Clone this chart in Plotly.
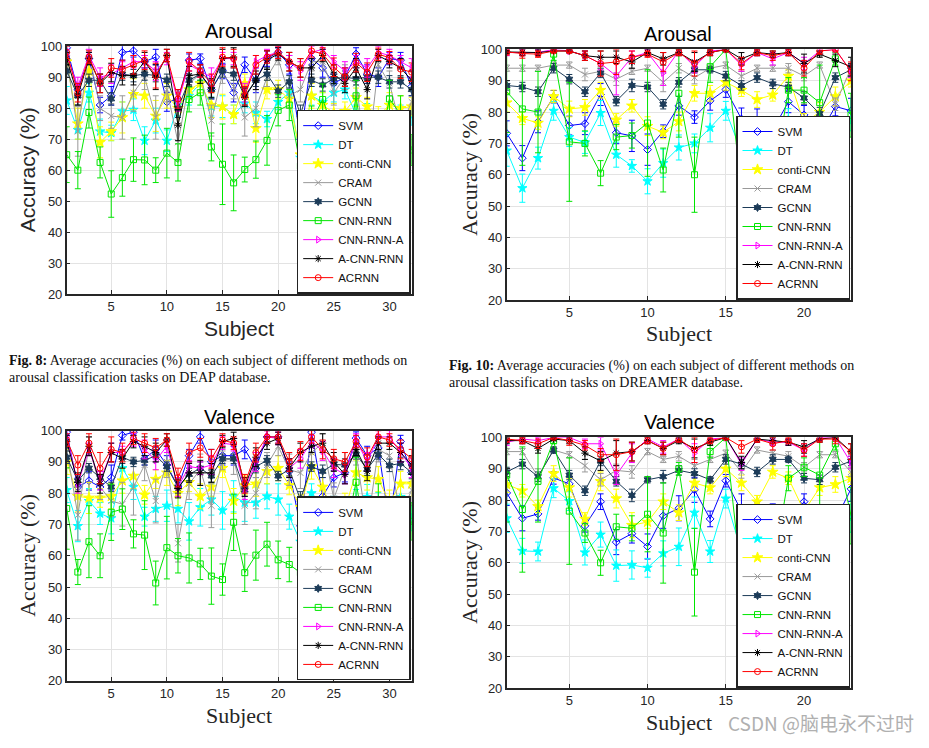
import plotly.graph_objects as go

# ---------------- categories ----------------
NAMES = ["SVM", "DT", "conti-CNN", "CRAM", "GCNN", "CNN-RNN", "CNN-RNN-A", "A-CNN-RNN", "ACRNN"]
DEAP_SUBJECTS = list(range(1, 33))
DREAMER_SUBJECTS = list(range(1, 24))
Y_TICKS = [20, 30, 40, 50, 60, 70, 80, 90, 100]
DEAP_X_TICKS = [5, 10, 15, 20, 25, 30]
DREAMER_X_TICKS = [5, 10, 15, 20]

# ---------------- DEAP arousal (Fig. 8) ----------------
DA_SVM = [99.5, 86, 96, 81, 84, 98, 98.5, 95, 96.5, 82, 83, 95.5, 96, 86, 92, 85, 94, 89, 96, 98, 94, 70, 96, 93, 88, 90, 97.5, 91, 90, 96, 95.5, 87]
DA_DT = [82.5, 73, 85, 72.5, 72, 79, 79.5, 69.5, 76, 69.5, 81, 84, 88, 80.5, 80.5, 78, 81.5, 78.5, 76.5, 82, 85, 64, 84, 82, 85, 86, 78, 78.5, 76, 71.5, 78, 77.5]
DA_CONTI = [95, 75, 92, 69, 72.5, 77, 84.5, 84, 77.5, 84, 80, 86, 88, 81, 80.5, 78, 88, 73.5, 86, 86, 83, 65, 84, 81, 78.5, 79, 83.5, 80.5, 77.5, 81, 80, 80.5]
DA_CRAM = [96, 72.5, 98, 80, 77.5, 77, 85, 90, 77, 86, 69, 88, 91, 76, 91, 87, 77, 80, 90, 96, 84, 86, 95, 95, 85, 90, 88, 62, 94, 88, 74, 82]
DA_GCNN = [92, 84, 89, 89, 83, 91, 90.5, 91, 90.5, 89, 80, 89, 91, 86, 92, 91, 84, 89, 91, 85.5, 88.5, 78, 89, 87.5, 89.5, 90, 89.5, 90, 90, 88.5, 88.5, 86]
DA_CNNRNN = [65, 60, 78.6, 62.5, 52.3, 57.6, 63.4, 63.3, 60, 65.5, 62.5, 82.8, 85, 67.5, 61.9, 55.9, 60.2, 63.4, 69.6, 79.3, 81, 61.3, 75.7, 82.8, 72.8, 60, 84, 58, 65.7, 83, 78, 66.5]
DA_CNNRNNA = [97, 87, 97, 90, 91, 93, 95, 95, 92, 96, 82, 94, 92, 90, 96, 96, 85, 95, 97, 98, 95, 92, 98, 99, 95, 92, 95, 93, 98, 97, 95, 93]
DA_ACNNRNN = [96, 84, 96, 88, 91.5, 90.5, 90.5, 95, 90, 97, 74.5, 90.5, 91, 86.5, 96, 96.5, 83.5, 89, 95.5, 97.5, 95, 93, 93, 97, 91, 88, 93, 86, 97, 95, 93, 89]
DA_ACRNN = [98, 85, 96.5, 88, 93, 92.5, 94, 95.5, 90.5, 97, 83, 95, 92, 88, 96.5, 96, 84, 94, 96.5, 98, 95, 93, 98.5, 97.5, 93.2, 90, 94.7, 91.6, 97.4, 96.3, 92.6, 91.6]

DA_SVM_ERR = [1.5, 2, 2, 2.5, 3, 2.5, 2, 2, 2.5, 3, 3, 2, 1.5, 3, 2.5, 3, 2.5, 4, 2.5, 1.5, 3, 6, 2, 3, 3, 3, 2, 3, 3, 2, 2.5, 3]
DA_DT_ERR = [4.5, 3, 3, 4, 2.5, 3, 3.5, 4.5, 4, 3.5, 3.5, 3, 3, 3, 3.5, 3, 3, 3.5, 2.5, 2.5, 3, 3.5, 3, 3, 3, 3, 3, 3, 3, 3, 3, 3]
DA_CONTI_ERR = [3, 5, 3, 5, 3, 5, 5, 4, 5, 4, 5, 3, 3, 4, 4, 3, 3, 4.5, 3, 3, 3, 4, 4, 4, 3, 3, 3, 3, 3, 4, 4, 3]
DA_CRAM_ERR = [2, 8, 3, 4, 4, 7, 6, 4, 7, 4, 6, 4, 3, 5, 3, 4, 6, 6, 3, 2, 4, 4, 3, 3, 4, 4, 4, 5, 3, 4, 4, 4]
DA_GCNN_ERR = [2, 3, 2, 2, 2, 2, 2, 2, 2, 2, 3, 2, 2, 3, 2, 2, 3, 2, 2, 2, 2, 3, 2, 2, 2, 2, 2, 2, 2, 2, 2, 2]
DA_CNNRNN_ERR = [9, 6, 5, 5, 7.5, 6, 7, 8, 4, 8, 6, 4, 4, 4.5, 13, 9, 4, 6, 8, 5, 5, 5, 5, 5, 4, 8, 5, 7, 5, 6, 6, 5]
DA_CNNRNNA_ERR = [2, 3, 2, 3, 3, 2, 2, 2, 3, 2, 3, 2, 2, 3, 2, 2, 3, 2, 2, 2, 2, 3, 2, 2, 2, 3, 2, 3, 2, 2, 2, 3]
DA_ACNNRNN_ERR = [2, 3, 2, 3, 3, 3, 3, 3, 4, 2, 5, 3, 3, 3, 3, 3, 3, 3, 3, 2, 3, 3, 3, 2, 3, 3, 3, 3, 2, 2, 3, 3]
DA_ACRNN_ERR = [2, 3, 2, 3, 3, 3, 3, 3, 4, 2, 3, 3, 2, 3, 3, 3, 3, 3, 2, 2, 3, 3, 2, 2, 3, 3, 3, 3, 2, 2, 3, 3]

# ---------------- DREAMER arousal (Fig. 10) ----------------
RA_SVM = [73.2, 65.3, 76.9, 84.9, 75.7, 76.3, 85.6, 73.4, 72.4, 68, 73.9, 82, 78.4, 83.6, 87.2, 77.8, 76, 74.2, 83.3, 79.1, 72.9, 81.8, 80.4]
RA_DT = [67.7, 55.7, 65.3, 80.4, 72, 70.3, 79.7, 66.4, 62.8, 57.9, 63.7, 68.7, 70, 75, 80.4, 67.2, 66.1, 64, 77.6, 67.7, 61.4, 69.6, 77]
RA_CONTI = [83, 78, 76.5, 85, 81, 81.5, 87, 77.5, 82, 75.5, 73.5, 77, 86, 86, 89.5, 87, 84, 85.5, 91.5, 76.5, 80, 85, 90]
RA_CRAM = [94, 94, 94, 95, 95, 92, 93, 90.5, 93, 94, 89.5, 94, 91, 94, 95, 91.5, 94, 94, 94, 91.5, 95, 82.5, 94]
RA_GCNN = [88.5, 88, 86.5, 94, 90.5, 86.5, 92.5, 83.5, 88.5, 88, 82.5, 89.5, 93.5, 93.5, 91.5, 88.5, 91, 89, 88, 84.5, 79.5, 91, 93.5]
RA_CNNRNN = [86.5, 81, 80, 98.5, 70.5, 70, 60.5, 72, 72.5, 76.5, 61.5, 86, 60, 94.5, 100, 55, 71, 58, 87, 87, 83, 97, 79]
RA_CNNRNNA = [99, 99, 99, 100, 99.5, 98, 95.5, 91.5, 97.5, 99, 92.5, 99.5, 94.5, 99.5, 100, 95, 99, 97, 99, 95.5, 99.5, 100, 93]
RA_ACNNRNN = [99.2, 99, 99, 99.5, 99.5, 98, 97.5, 97.5, 96, 99, 97, 99, 96, 99, 100, 97, 99, 98.5, 99, 95.5, 98.5, 96.5, 94.5]
RA_ACRNN = [99.2, 98.7, 98.5, 99.5, 99.5, 98, 95.5, 96, 97.5, 98.5, 96, 99, 95.5, 99, 100, 95.5, 99, 98, 99, 94, 99.5, 100, 93]

RA_SVM_ERR = [4, 4, 3.5, 2, 3, 3.5, 3.5, 3.5, 5, 5, 2, 3, 2, 3, 2.5, 3.5, 5, 3.5, 3.5, 3, 5, 3, 4]
RA_DT_ERR = [5, 4.5, 3.5, 3, 3, 3.5, 4, 4, 2, 4, 4.5, 4, 3, 4.5, 3, 6, 4, 4.5, 3.5, 4.5, 3, 3.5, 3]
RA_CONTI_ERR = [3, 2, 2, 2, 2.5, 2.5, 2.5, 2, 2, 3, 2, 3, 2.5, 2.5, 2.5, 2, 2.5, 2, 2, 3, 3, 3, 2]
RA_CRAM_ERR = [1, 1, 1, 1, 1, 2, 1.5, 2, 1, 1, 3, 1.5, 2, 1, 1, 1.5, 1, 1, 1.5, 1.5, 1, 2, 1]
RA_GCNN_ERR = [1.5, 1.5, 1.5, 1.5, 1.5, 1.5, 1.5, 1.5, 2, 1.5, 1.5, 1.5, 1, 1, 1.5, 1.5, 1.5, 1.5, 1.5, 2, 2, 1.5, 2]
RA_CNNRNN_ERR = [13, 18, 13, 2, 19, 4, 4, 4, 4, 17, 7, 14, 12, 5, 1, 5, 5, 6, 4, 4, 12, 2, 7]
RA_CNNRNNA_ERR = [1, 1, 1, 0.5, 0.5, 1.5, 2, 6, 2, 1, 4, 1, 2, 1, 0.5, 2, 1, 2, 1, 2, 1, 0.5, 2]
RA_ACNNRNN_ERR = [0.5, 1, 1, 0.5, 0.5, 1.5, 2, 2, 2, 1, 2, 1, 3, 1, 0.5, 2, 1, 1, 1, 3, 1, 2, 3]
RA_ACRNN_ERR = [1, 1.5, 1, 0.5, 0.5, 1.5, 4, 4, 2, 1, 3, 1, 4, 1, 0.5, 2, 1, 1.5, 1, 2.5, 1, 0.5, 3]

# ---------------- DEAP valence ----------------
DV_SVM = [99.5, 82, 84, 82, 85, 98.5, 99.5, 91, 94, 89, 82, 92, 98, 90, 92, 92, 94, 88, 98, 98, 87, 69.5, 99.5, 79, 85, 86.6, 97.6, 92, 94.5, 70, 96.5, 86.6]
DV_DT = [81, 69.5, 77.5, 73.5, 72, 88, 82, 72.5, 75, 76, 75, 71, 75.5, 78, 74.5, 79, 77, 77, 79, 78, 72.5, 64.5, 80, 68.5, 74, 68.8, 77.2, 78.8, 76.2, 72, 78.8, 72]
DV_CONTI = [90, 79, 78.5, 78.5, 79, 84, 85.5, 79.5, 84.5, 86.5, 80, 83.5, 79, 82, 88, 77.5, 82.5, 83, 87, 88, 82.5, 75.5, 88.5, 82, 73, 75, 86.6, 85, 84.5, 77, 83, 83]
DV_CRAM = [94, 73, 95, 82, 77.5, 76.5, 82, 89, 77.5, 90, 64, 83, 87.5, 76, 90.5, 91, 76, 80, 89, 95, 87.5, 86.5, 93, 96, 78.3, 88, 93, 68.8, 94, 92, 73, 81]
DV_GCNN = [91.5, 84, 88, 85, 82, 91.5, 90, 90.5, 92, 88.5, 82, 86, 88, 85.5, 91, 91, 81, 88.5, 90.5, 85.5, 87.5, 78, 88.5, 87, 89.2, 89, 92.4, 87.7, 92.4, 88.9, 89.5, 86.6]
DV_CNNRNN = [75.1, 54.8, 64.5, 60, 73.9, 74.9, 67, 66.6, 51.3, 62.6, 60, 59.3, 57.4, 53.5, 52.4, 70.7, 54.6, 60.2, 63.7, 58.7, 57.2, 54.6, 67.3, 58, 62, 66.9, 83.5, 63, 77, 67.8, 60, 71]
DV_CNNRNNA = [98, 83, 94, 84, 93, 93, 97, 94, 90.5, 95, 82, 88.5, 88, 89, 96, 95.5, 81, 90, 98, 97.5, 88, 91, 96.5, 93.5, 88, 86, 97, 90, 98, 98, 93, 88]
DV_ACNNRNN = [96.5, 83.5, 95, 83, 93, 91, 96.5, 95, 93, 97, 81.5, 86.5, 86.5, 86.5, 96.5, 97.5, 82, 91.5, 96, 97.5, 88, 93, 95, 96, 90, 86, 94, 87, 96, 96, 93, 89]
DV_ACRNN = [97, 89, 96, 88, 94, 93, 97.5, 96, 94.5, 97, 85, 93, 94.5, 91, 97, 96, 83, 93, 98, 98, 90, 93.5, 98, 94, 91, 90, 96.5, 91.5, 98, 97, 94, 91]

DV_SVM_ERR = [1, 3, 3, 3, 4, 1.5, 1, 2, 3, 3, 3, 2, 2, 4, 3, 3, 3, 3, 2, 2, 3, 6, 2, 6, 3, 3, 2, 3, 3, 6, 2, 3]
DV_DT_ERR = [4, 5, 4, 3.5, 5, 4, 4, 3, 4, 5, 4.5, 6, 6, 5, 6, 5, 6, 5, 4, 5, 4, 4, 3, 5, 5, 5, 4, 4, 4, 5, 4, 4]
DV_CONTI_ERR = [4, 5, 5, 3, 4, 4, 4, 3, 3, 4, 4, 3, 4, 3, 3, 4, 3, 4, 4, 4, 3, 4, 4, 5, 5, 5, 4, 4, 4, 4, 4, 4]
DV_CRAM_ERR = [3, 8, 3, 4, 5, 7, 9, 5, 7, 5, 6, 5, 5, 7, 3, 5, 6, 5, 4, 3, 5, 5, 4, 3, 5, 5, 4, 5, 4, 4, 5, 5]
DV_GCNN_ERR = [2, 2, 1.5, 2, 1.5, 2, 1.5, 1.5, 2, 1.5, 2, 2, 2, 2, 1.5, 1.5, 2, 2, 1.5, 1.5, 2, 2.5, 1.5, 2, 2, 2, 1.5, 2, 1.5, 2, 2, 2]
DV_CNNRNN_ERR = [13, 4, 11.5, 7, 9, 6.5, 4.5, 11, 7, 10, 5.5, 8, 5, 9, 5, 9, 6, 8, 7, 6, 5.5, 5.5, 6, 5, 5, 6, 8, 7, 6, 6, 6, 6]
DV_CNNRNNA_ERR = [2, 3, 2, 3, 3, 2, 2, 3, 3, 2, 3, 2, 2, 3, 2, 2, 3, 3, 2, 2, 3, 3, 2, 3, 3, 3, 2, 3, 2, 2, 3, 3]
DV_ACNNRNN_ERR = [2, 3, 3, 3, 3, 3, 2, 3, 3, 2, 3, 3, 4, 3, 2, 2, 3, 3, 2, 2, 3, 3, 2, 3, 3, 3, 2, 3, 2, 2, 3, 3]
DV_ACRNN_ERR = [2, 3, 3, 5, 4, 3, 2, 3, 3, 2, 3, 3, 3, 3, 2, 2, 3, 3, 2, 2, 3, 3, 2, 3, 3, 3, 2, 3, 2, 2, 3, 3]

# ---------------- DREAMER valence ----------------
RV_SVM = [82.3, 74.2, 75.6, 87.1, 85.2, 71.8, 79.5, 66.6, 69.3, 65.2, 75, 77.4, 83.3, 74, 86.2, 76.5, 77.4, 76.3, 73, 79.5, 72.5, 73.5, 83.6]
RV_DT = [74.2, 63.8, 63.6, 83.8, 79.7, 63.3, 69, 59.1, 59.3, 58.4, 63, 65.1, 76, 63.6, 80.5, 63.6, 64.3, 66.1, 60, 70.8, 64.7, 65.4, 74.2]
RV_CONTI = [85, 83, 78, 88.5, 84, 74, 86, 80.5, 72, 73, 79.5, 76, 85.5, 84, 90, 85.5, 79.5, 89, 87, 76.5, 84, 85, 87]
RV_CRAM = [95.5, 95.5, 87.5, 96, 94.5, 91, 86.5, 89.5, 89, 95.5, 93, 94, 91, 93, 95, 89, 96, 95, 94, 90.5, 94.5, 94.5, 89]
RV_GCNN = [89, 91.5, 87.5, 96, 88, 83, 92.5, 86, 81.5, 86.5, 87.5, 89.5, 88.5, 86.5, 93, 91.5, 89, 93, 93, 87, 86.5, 90.5, 92.5]
RV_CNNRNN = [88, 77, 86, 99, 76.5, 69.5, 60, 71.5, 71, 75.5, 69.5, 90, 57, 95.5, 100, 54.5, 70.5, 58, 87, 90.5, 88, 98, 75]
RV_CNNRNNA = [98.5, 99.5, 99, 100, 100, 98, 98, 88, 95, 99.5, 97, 99.5, 95, 99.5, 100, 91.5, 99.5, 98.5, 98.5, 96, 100, 100, 92]
RV_ACNNRNN = [99, 99, 96.5, 99.5, 99, 95, 92.5, 95, 95.5, 99, 96.5, 99, 96.5, 98.5, 100, 92, 99.5, 99, 98.5, 97, 99.5, 100, 95.5]
RV_ACRNN = [99.5, 99, 98, 100, 99, 97.5, 94.5, 94.5, 95.5, 99, 96.5, 99.5, 96, 99, 100, 97, 99.5, 98, 99, 96, 99.5, 99.5, 95.5]

RV_SVM_ERR = [4, 4, 2, 2, 2, 2, 2.5, 4, 3, 4, 4, 4, 4, 2.5, 2, 5.5, 2, 2.5, 5, 2.5, 3, 3.5, 4]
RV_DT_ERR = [4.5, 4, 3, 3, 3, 4, 4, 5, 4.5, 3, 4, 6, 5, 3.5, 3, 3, 3, 3.5, 4, 3, 3.5, 4, 4.5]
RV_CONTI_ERR = [2.5, 2, 2, 2.5, 3, 2, 3, 3, 4, 2, 2.5, 2.5, 2.5, 2, 2.5, 2.5, 2, 2, 2, 2, 2.5, 2.5, 2]
RV_CRAM_ERR = [1, 1, 2.5, 1, 1, 2, 2, 2, 2, 1, 1, 1.5, 2, 1, 1, 2, 1, 1, 1.5, 1.5, 1, 1, 1.5]
RV_GCNN_ERR = [1.5, 1.5, 1.5, 1, 1.5, 1.5, 1.5, 1.5, 2, 1, 2, 1.5, 1.5, 1, 1.5, 1.5, 1.5, 1.5, 1, 1.5, 1.5, 1.5, 1.5]
RV_CNNRNN_ERR = [15, 20, 13, 1, 17, 3, 4, 4, 4, 12, 16, 2, 14, 2, 1, 5, 3, 6, 4, 3, 11, 2, 9]
RV_CNNRNNA_ERR = [1, 1, 1, 0.5, 0.5, 1.5, 2, 3, 3, 1, 2, 1, 3, 1, 0.5, 2, 1, 1, 1, 2, 1, 0.5, 2]
RV_ACNNRNN_ERR = [1, 1, 1.5, 0.5, 1, 2, 3, 4, 3, 1, 2, 1, 3, 1, 0.5, 2, 1, 1, 1, 2, 1, 0.5, 2.5]
RV_ACRNN_ERR = [1, 1, 1.5, 0.5, 1.5, 1.5, 2, 5, 3, 1, 2, 1, 4, 1, 0.5, 2, 1, 2, 1, 2, 1, 1.5, 2.5]

# ---------------- styles ----------------
COLORS = ["#0000ff", "#00ffff", "#ffff00", "#999999", "#1c3b58", "#00e600", "#ff00ff", "#000000", "#ff0000"]
SYMBOLS = ["diamond-open", "star", "star", "x-thin-open", "hexagram", "square-open",
           "triangle-right-open", "asterisk-open", "circle-open"]
SIZES = [6, 7, 8, 6, 6, 6, 6, 6, 6]

W, H = 929, 748
SANS = "Liberation Sans, Arial, sans-serif"
SERIF = "Liberation Serif, Times New Roman, serif"


def px_x(x):
    return x / W


def px_y(y):
    return 1 - y / H


panels = [
    dict(subjects=DEAP_SUBJECTS, xticks=DEAP_X_TICKS,
         series=[DA_SVM, DA_DT, DA_CONTI, DA_CRAM, DA_GCNN, DA_CNNRNN, DA_CNNRNNA, DA_ACNNRNN, DA_ACRNN],
         errs=[DA_SVM_ERR, DA_DT_ERR, DA_CONTI_ERR, DA_CRAM_ERR, DA_GCNN_ERR, DA_CNNRNN_ERR, DA_CNNRNNA_ERR, DA_ACNNRNN_ERR, DA_ACRNN_ERR],
         box=(66.7, 411.7, 40, 293), title="Arousal", title_xy=(239, 25),
         font=SANS, xlabel_y=328, ylabel_x=27),
    dict(subjects=DREAMER_SUBJECTS, xticks=DREAMER_X_TICKS,
         series=[RA_SVM, RA_DT, RA_CONTI, RA_CRAM, RA_GCNN, RA_CNNRNN, RA_CNNRNNA, RA_ACNNRNN, RA_ACRNN],
         errs=[RA_SVM_ERR, RA_DT_ERR, RA_CONTI_ERR, RA_CRAM_ERR, RA_GCNN_ERR, RA_CNNRNN_ERR, RA_CNNRNNA_ERR, RA_ACNNRNN_ERR, RA_ACRNN_ERR],
         box=(506.7, 851, 43.3, 299), title="Arousal", title_xy=(678, 28),
         font=SERIF, xlabel_y=333, ylabel_x=470),
    dict(subjects=DEAP_SUBJECTS, xticks=DEAP_X_TICKS,
         series=[DV_SVM, DV_DT, DV_CONTI, DV_CRAM, DV_GCNN, DV_CNNRNN, DV_CNNRNNA, DV_ACNNRNN, DV_ACRNN],
         errs=[DV_SVM_ERR, DV_DT_ERR, DV_CONTI_ERR, DV_CRAM_ERR, DV_GCNN_ERR, DV_CNNRNN_ERR, DV_CNNRNNA_ERR, DV_ACNNRNN_ERR, DV_ACRNN_ERR],
         box=(66.7, 411.7, 432.3, 687.7), title="Valence", title_xy=(239, 418),
         font=SERIF, xlabel_y=723, ylabel_x=28),
    dict(subjects=DREAMER_SUBJECTS, xticks=DREAMER_X_TICKS,
         series=[RV_SVM, RV_DT, RV_CONTI, RV_CRAM, RV_GCNN, RV_CNNRNN, RV_CNNRNNA, RV_ACNNRNN, RV_ACRNN],
         errs=[RV_SVM_ERR, RV_DT_ERR, RV_CONTI_ERR, RV_CRAM_ERR, RV_GCNN_ERR, RV_CNNRNN_ERR, RV_CNNRNNA_ERR, RV_ACNNRNN_ERR, RV_ACRNN_ERR],
         box=(506.7, 851, 439.3, 695), title="Valence", title_xy=(679, 424),
         font=SERIF, xlabel_y=730, ylabel_x=470),
]

fig = go.Figure()
annotations = []
layout_extra = {}

for i, p in enumerate(panels):
    k = "" if i == 0 else str(i + 1)
    xa, ya = "x" + k, "y" + k
    leg = "legend" + k
    for j, name in enumerate(NAMES):
        fig.add_trace(go.Scatter(
            x=p["subjects"], y=p["series"][j], name=name, mode="lines+markers",
            xaxis=xa, yaxis=ya, legend=leg, cliponaxis=True,
            line=dict(color=COLORS[j], width=1),
            marker=dict(symbol=SYMBOLS[j], size=SIZES[j], color=COLORS[j],
                        line=dict(color=COLORS[j], width=1)),
            error_y=dict(type="data", array=p["errs"][j], color=COLORS[j], thickness=1, width=3),
        ))
    x0, x1, y0, y1 = p["box"]
    axis_common = dict(showline=True, linecolor="#262626", linewidth=1.5, mirror=True,
                       showgrid=True, gridcolor="#e3e3e3", gridwidth=1, zeroline=False,
                       ticks="inside", ticklen=4, tickcolor="#262626",
                       tickfont=dict(family=SANS, size=13, color="#262626"))
    layout_extra["xaxis" + k] = dict(axis_common, domain=[px_x(x0), px_x(x1)],
                                     range=[1, len(p["subjects"])], tickvals=p["xticks"],
                                     anchor=ya)
    layout_extra["yaxis" + k] = dict(axis_common, domain=[px_y(y1), px_y(y0)],
                                     range=[20, 100], tickvals=Y_TICKS, anchor=xa)
    layout_extra[leg] = dict(x=px_x(x1 - 1), y=px_y(y1 - 0.5), xanchor="right", yanchor="bottom",
                             bgcolor="white", bordercolor="#222222", borderwidth=1.5,
                             font=dict(family=SANS, size=11.5, color="#111111"),
                             tracegroupgap=0, itemwidth=30)
    tx, ty = p["title_xy"]
    annotations.append(dict(text=p["title"], x=px_x(tx), y=px_y(ty), xref="paper", yref="paper",
                            showarrow=False, xanchor="center", yanchor="middle",
                            font=dict(family=SANS, size=20, color="black")))
    fsize = 21 if p["font"] == SANS else 22
    annotations.append(dict(text="Subject", x=px_x((x0 + x1) / 2), y=px_y(p["xlabel_y"]),
                            xref="paper", yref="paper", showarrow=False,
                            xanchor="center", yanchor="middle",
                            font=dict(family=p["font"], size=fsize, color="#262626")))
    annotations.append(dict(text="Accuracy (%)", x=px_x(p["ylabel_x"]), y=px_y((y0 + y1) / 2),
                            xref="paper", yref="paper", showarrow=False, textangle=-90,
                            xanchor="center", yanchor="middle",
                            font=dict(family=p["font"], size=fsize, color="#262626")))

# captions (one annotation per line for tight line spacing)
cap_font = dict(family=SERIF, size=14, color="#111111")
CAPTION_LINES = [
    ("<b>Fig. 8:</b> Average accuracies (%) on each subject of different methods on", 8, 361),
    ("arousal classification tasks on DEAP database.", 8, 378),
    ("<b>Fig. 10:</b> Average accuracies (%) on each subject of different methods on", 448, 366),
    ("arousal classification tasks on DREAMER database.", 448, 383),
]
for text, cx, cy in CAPTION_LINES:
    annotations.append(dict(text=text, x=px_x(cx), y=px_y(cy), xref="paper", yref="paper",
                            showarrow=False, xanchor="left", yanchor="middle", align="left",
                            font=cap_font, borderpad=0))
annotations.append(dict(text="CSDN @脑电永不过时", x=px_x(916), y=px_y(730), xref="paper", yref="paper",
                        showarrow=False, xanchor="right", yanchor="middle",
                        font=dict(family="Noto Sans CJK SC, sans-serif", size=19, color="#b0b0b0")))

fig.update_layout(width=W, height=H, margin=dict(l=0, r=0, t=0, b=0),
                  paper_bgcolor="white", plot_bgcolor="white",
                  showlegend=True, annotations=annotations, **layout_extra)

fig.write_html("out.html", config={"displayModeBar": False},
               post_script="document.body.style.margin='0px';document.body.style.overflow='hidden';")
